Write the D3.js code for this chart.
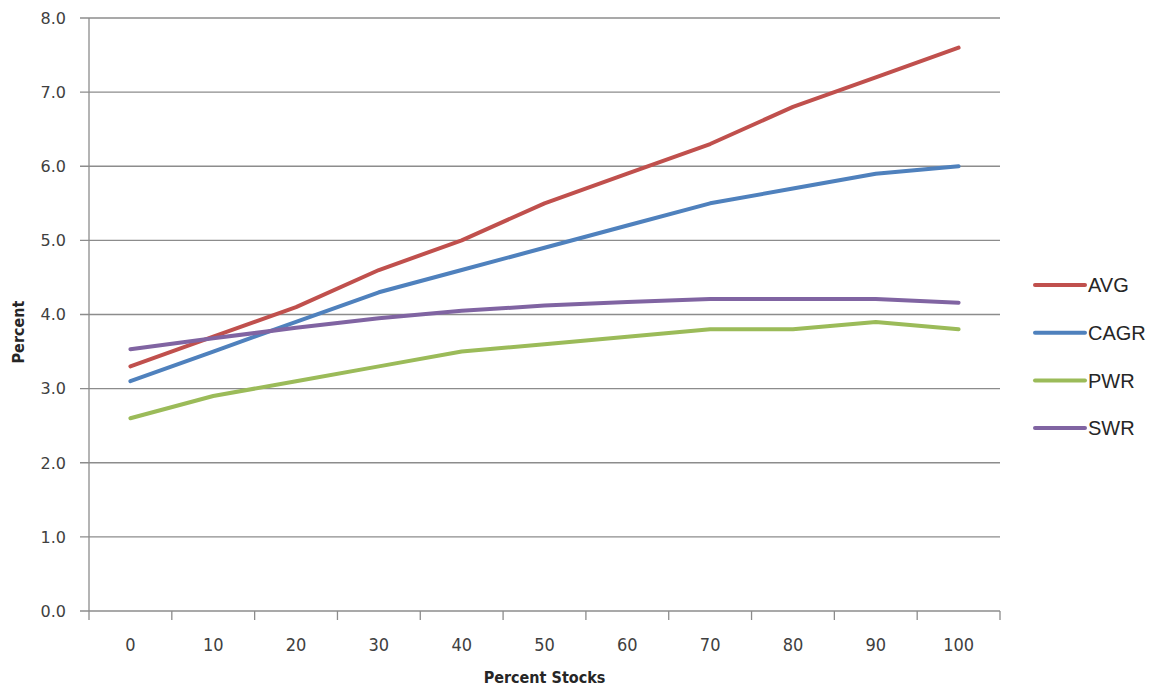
<!DOCTYPE html>
<html><head><meta charset="utf-8">
<script src="https://cdn.jsdelivr.net/npm/d3@7"></script>
<style>body{margin:0;background:#fff}svg{display:block}</style>
</head><body>
<svg id="c" width="1159" height="690"></svg>
<script>
const categories = ["0","10","20","30","40","50","60","70","80","90","100"];
const avg  = [3.3,3.7,4.1,4.6,5.0,5.5,5.9,6.3,6.8,7.2,7.6];
const cagr = [3.1,3.5,3.9,4.3,4.6,4.9,5.2,5.5,5.7,5.9,6.0];
const pwr  = [2.6,2.9,3.1,3.3,3.5,3.6,3.7,3.8,3.8,3.9,3.8];
const swr  = [3.53,3.68,3.82,3.95,4.05,4.12,4.17,4.21,4.21,4.21,4.16];
const seriesNames = ["AVG","CAGR","PWR","SWR"];
const yTicks = [0,1,2,3,4,5,6,7,8];

const series = [
  {name: seriesNames[0], values: avg,  color: "#C0504D"},
  {name: seriesNames[1], values: cagr, color: "#4F81BD"},
  {name: seriesNames[2], values: pwr,  color: "#9BBB59"},
  {name: seriesNames[3], values: swr,  color: "#8064A2"}
];

const svg = d3.select("#c");
const L = 89, R = 1000, T = 18, B = 611;
const x = d3.scaleBand().domain(categories).range([L, R]);
const y = d3.scaleLinear().domain([0, 8]).range([B, T]);

// gridlines
svg.append("g").selectAll("line").data(yTicks).join("line")
  .attr("x1", L - 9).attr("x2", R)
  .attr("y1", d => y(d)).attr("y2", d => y(d))
  .attr("stroke", "#8c8c8c").attr("stroke-width", 1.3);

// y axis line
svg.append("line").attr("x1", L).attr("x2", L).attr("y1", T).attr("y2", B)
  .attr("stroke", "#8c8c8c").attr("stroke-width", 1.3);

// y tick labels
svg.append("g").selectAll("text").data(yTicks).join("text")
  .attr("x", 66).attr("y", d => y(d)).attr("dy", "0.36em")
  .attr("text-anchor", "end")
  .attr("font-family", "DejaVu Sans, Verdana, sans-serif").attr("font-size", 16)
  .attr("fill", "#404040")
  .text(d => d.toFixed(1));

// x ticks at category boundaries
const bounds = categories.map(c => x(c)).concat([R]);
svg.append("g").selectAll("line").data(bounds).join("line")
  .attr("x1", d => d).attr("x2", d => d).attr("y1", B).attr("y2", B + 9)
  .attr("stroke", "#8c8c8c").attr("stroke-width", 1.3);

// x tick labels
svg.append("g").selectAll("text").data(categories).join("text")
  .attr("x", d => x(d) + x.bandwidth() / 2).attr("y", 645)
  .attr("dy", "0.36em").attr("text-anchor", "middle")
  .attr("font-family", "DejaVu Sans Condensed, DejaVu Sans, sans-serif")
  .attr("font-size", 18).attr("fill", "#404040")
  .text(d => d);

// axis titles
svg.append("text").attr("x", (L + R) / 2).attr("y", 683)
  .attr("text-anchor", "middle")
  .attr("font-family", "DejaVu Sans Condensed, DejaVu Sans, sans-serif")
  .attr("font-weight", "bold").attr("font-size", 16).attr("fill", "#262626")
  .text("Percent Stocks");
svg.append("text").attr("transform", "translate(24,332) rotate(-90)")
  .attr("text-anchor", "middle")
  .attr("font-family", "DejaVu Sans Condensed, DejaVu Sans, sans-serif")
  .attr("font-weight", "bold").attr("font-size", 16).attr("fill", "#262626")
  .text("Percent");

// lines
const line = d3.line()
  .x((d, i) => x(categories[i]) + x.bandwidth() / 2)
  .y(d => y(d));
svg.append("g").selectAll("path").data(series).join("path")
  .attr("d", d => line(d.values))
  .attr("fill", "none").attr("stroke", d => d.color)
  .attr("stroke-width", 4).attr("stroke-linejoin", "round").attr("stroke-linecap", "round");

// legend
const lg = svg.append("g").selectAll("g").data(series).join("g")
  .attr("transform", (d, i) => `translate(1035,${285 + i * 47.7})`);
lg.append("line").attr("x1", 0).attr("x2", 50).attr("y1", 0).attr("y2", 0)
  .attr("stroke", d => d.color).attr("stroke-width", 4).attr("stroke-linecap", "round");
lg.append("text").attr("x", 53).attr("y", 0).attr("dy", "0.36em")
  .attr("font-family", "Liberation Sans, Arial, sans-serif").attr("font-size", 20)
  .attr("fill", "#262626").text(d => d.name);
</script>
</body></html>
